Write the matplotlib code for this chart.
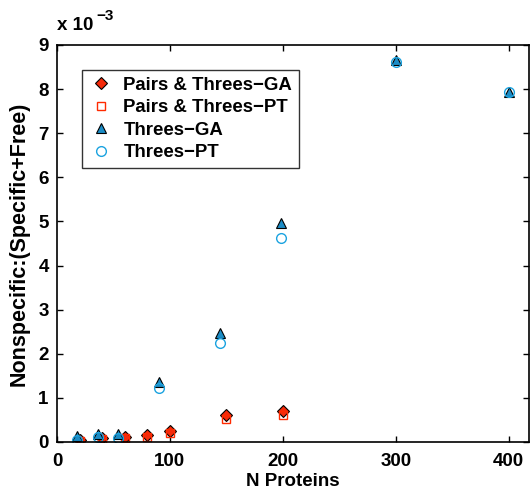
import matplotlib
matplotlib.use("Agg")
import matplotlib.pyplot as plt

# values in units of 1e-3
pt_ga_n = [20, 40, 60, 80, 100, 150, 200]
pt_ga_val = [0.05, 0.08, 0.12, 0.15, 0.26, 0.62, 0.70]

pt_pt_n = [20, 40, 60, 80, 100, 150, 200]
pt_pt_val = [0.03, 0.06, 0.09, 0.12, 0.20, 0.53, 0.62]

th_ga_n = [18, 36, 54, 90, 144, 198, 300, 400]
th_ga_val = [0.13, 0.18, 0.18, 1.37, 2.46, 4.96, 8.67, 7.94]

th_pt_n = [18, 36, 54, 90, 144, 198, 300, 400]
th_pt_val = [0.05, 0.11, 0.10, 1.22, 2.25, 4.63, 8.61, 7.93]

plt.rcParams['font.family'] = ['Liberation Sans', 'DejaVu Sans']
plt.rcParams['font.weight'] = 'bold'

fig = plt.figure(figsize=(5.3, 4.91), dpi=100)
ax = fig.add_axes([0.1075, 0.0998, 0.8906, 0.8086])

ax.plot(pt_ga_n, pt_ga_val, 'D', color='#f52a0a', mec='black', mew=0.8, ms=6,
        label='Pairs & Threes\u2212GA', linestyle='none')
ax.plot(pt_pt_n, pt_pt_val, 's', mfc='none', mec='#ff2a00', mew=1.0, ms=6,
        label='Pairs & Threes\u2212PT', linestyle='none')
ax.plot(th_ga_n, th_ga_val, '^', color='#1b8cc6', mec='black', mew=0.8, ms=7.5,
        label='Threes\u2212GA', linestyle='none')
ax.plot(th_pt_n, th_pt_val, 'o', mfc='none', mec='#1ba3e0', mew=1.0, ms=7,
        label='Threes\u2212PT', linestyle='none')

ax.set_xlim(0, 418)
ax.set_ylim(0, 9)
ax.set_xticks([0, 100, 200, 300, 400])
ax.set_yticks(range(10))
ax.tick_params(direction='in', top=True, right=True, length=4, width=1,
               labelsize=13.5, pad=6)
ax.tick_params(axis='x', pad=8)
for lab in ax.get_xticklabels() + ax.get_yticklabels():
    lab.set_fontweight('bold')
for sp in ax.spines.values():
    sp.set_linewidth(1.2)

ax.set_xlabel('N Proteins', fontsize=13.5, fontweight='bold', labelpad=2)
ax.set_ylabel('Nonspecific:(Specific+Free)', fontsize=15.5, fontweight='bold',
              labelpad=6)

fig.text(0.107, 0.938, 'x 10', fontsize=13.5, fontweight='bold')
fig.text(0.181, 0.960, '\u22123', fontsize=11, fontweight='bold')

leg = ax.legend(loc='upper left', bbox_to_anchor=(0.052, 0.937), fontsize=13.4,
                frameon=True, fancybox=False, edgecolor='black',
                borderpad=0.35, labelspacing=0.3, handletextpad=0.5,
                handlelength=1.4, borderaxespad=0)
leg.get_frame().set_linewidth(1.0)
for t in leg.get_texts():
    t.set_fontweight('bold')

fig.savefig('out.png', dpi=100)
